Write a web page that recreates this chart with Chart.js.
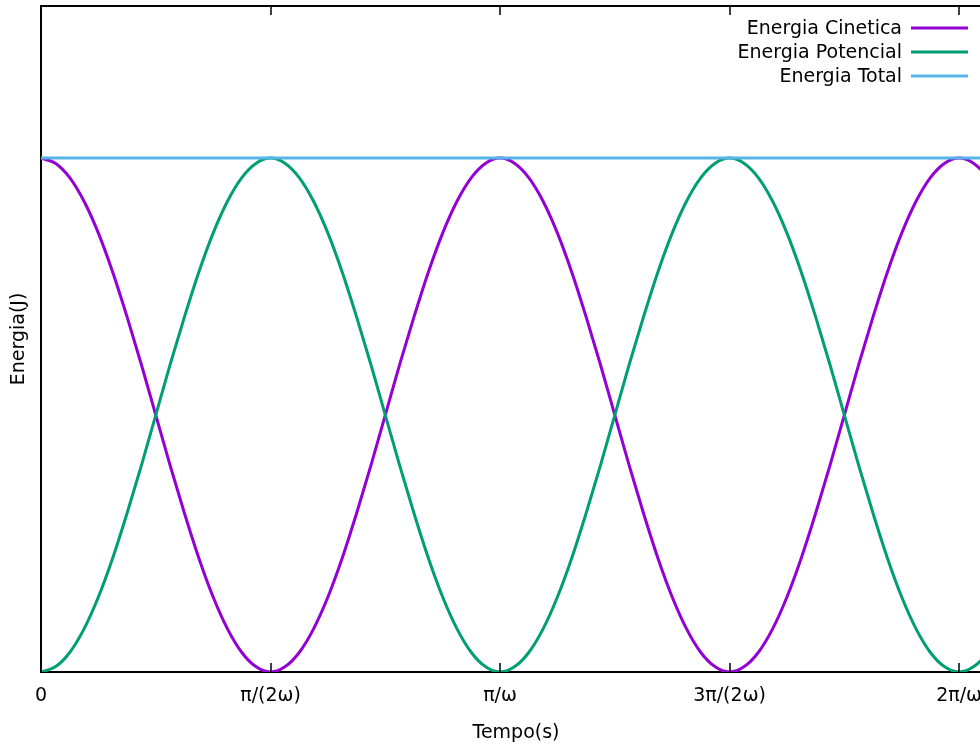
<!DOCTYPE html>
<html>
<head>
<meta charset="utf-8">
<script src="https://cdn.jsdelivr.net/npm/chart.js@4.4.1/dist/chart.umd.min.js"></script>
<style>
  html, body { margin: 0; padding: 0; background: #fff; overflow: hidden; width: 980px; height: 744px; }
  #wrap { width: 1000px; height: 744px; }
</style>
</head>
<body>
<div id="wrap"><canvas id="c" width="1000" height="744"></canvas></div>
<script>
// Time in units of pi/(2*omega)
const tempo = [
  0, 0.0625, 0.125, 0.1875, 0.25, 0.3125, 0.375, 0.4375,
  0.5, 0.5625, 0.625, 0.6875, 0.75, 0.8125, 0.875, 0.9375,
  1, 1.0625, 1.125, 1.1875, 1.25, 1.3125, 1.375, 1.4375,
  1.5, 1.5625, 1.625, 1.6875, 1.75, 1.8125, 1.875, 1.9375,
  2, 2.0625, 2.125, 2.1875, 2.25, 2.3125, 2.375, 2.4375,
  2.5, 2.5625, 2.625, 2.6875, 2.75, 2.8125, 2.875, 2.9375,
  3, 3.0625, 3.125, 3.1875, 3.25, 3.3125, 3.375, 3.4375,
  3.5, 3.5625, 3.625, 3.6875, 3.75, 3.8125, 3.875, 3.9375,
  4, 4.0625, 4.125, 4.1875, 4.25];

const energiaCinetica = [
  1, 0.990, 0.962, 0.916, 0.854, 0.778, 0.691, 0.598,
  0.5, 0.402, 0.309, 0.222, 0.146, 0.084, 0.038, 0.010,
  0, 0.010, 0.038, 0.084, 0.146, 0.222, 0.309, 0.402,
  0.5, 0.598, 0.691, 0.778, 0.854, 0.916, 0.962, 0.990,
  1, 0.990, 0.962, 0.916, 0.854, 0.778, 0.691, 0.598,
  0.5, 0.402, 0.309, 0.222, 0.146, 0.084, 0.038, 0.010,
  0, 0.010, 0.038, 0.084, 0.146, 0.222, 0.309, 0.402,
  0.5, 0.598, 0.691, 0.778, 0.854, 0.916, 0.962, 0.990,
  1, 0.990, 0.962, 0.916, 0.854];

const energiaPotencial = [
  0, 0.010, 0.038, 0.084, 0.146, 0.222, 0.309, 0.402,
  0.5, 0.598, 0.691, 0.778, 0.854, 0.916, 0.962, 0.990,
  1, 0.990, 0.962, 0.916, 0.854, 0.778, 0.691, 0.598,
  0.5, 0.402, 0.309, 0.222, 0.146, 0.084, 0.038, 0.010,
  0, 0.010, 0.038, 0.084, 0.146, 0.222, 0.309, 0.402,
  0.5, 0.598, 0.691, 0.778, 0.854, 0.916, 0.962, 0.990,
  1, 0.990, 0.962, 0.916, 0.854, 0.778, 0.691, 0.598,
  0.5, 0.402, 0.309, 0.222, 0.146, 0.084, 0.038, 0.010,
  0, 0.010, 0.038, 0.084, 0.146];

const energiaTotal = [
  1, 1, 1, 1, 1, 1, 1, 1, 1, 1, 1, 1, 1, 1, 1, 1,
  1, 1, 1, 1, 1, 1, 1, 1, 1, 1, 1, 1, 1, 1, 1, 1,
  1, 1, 1, 1, 1, 1, 1, 1, 1, 1, 1, 1, 1, 1, 1, 1,
  1, 1, 1, 1, 1, 1, 1, 1, 1, 1, 1, 1, 1, 1, 1, 1,
  1, 1, 1, 1, 1];

const tickValues = [0, 1, 2, 3, 4];
const tickLabels = ['0', 'π/(2ω)', 'π/ω', '3π/(2ω)', '2π/ω'];

const FONT = 'DejaVu Sans';
const pts = (ys) => tempo.map((x, i) => ({ x: x, y: ys[i] }));

// Gnuplot-like frame: top border, inward ticks, and key in the upper right
const framePlugin = {
  id: 'frame',
  afterDatasetsDraw(chart) {
    const ctx = chart.ctx;
    const a = chart.chartArea;
    const xs = chart.scales.x;
    ctx.save();
    ctx.strokeStyle = '#000';
    ctx.lineWidth = 2;
    ctx.beginPath();
    ctx.moveTo(a.left, a.top);
    ctx.lineTo(a.right, a.top);
    ctx.stroke();
    ctx.lineWidth = 1.5;
    tickValues.forEach(v => {
      const px = Math.round(xs.getPixelForValue(v));
      ctx.beginPath();
      ctx.moveTo(px, a.bottom);
      ctx.lineTo(px, a.bottom - 9);
      ctx.moveTo(px, a.top);
      ctx.lineTo(px, a.top + 9);
      ctx.stroke();
    });
    // key
    ctx.font = '19px "' + FONT + '"';
    ctx.textAlign = 'right';
    ctx.textBaseline = 'middle';
    chart.data.datasets.forEach((ds, i) => {
      const y = 28 + i * 24;
      ctx.fillStyle = '#000';
      ctx.fillText(ds.label, 902, y + 1);
      ctx.strokeStyle = ds.borderColor;
      ctx.lineWidth = 3;
      ctx.beginPath();
      ctx.moveTo(911, y);
      ctx.lineTo(968, y);
      ctx.stroke();
    });
    ctx.restore();
  }
};

new Chart(document.getElementById('c'), {
  type: 'line',
  data: {
    datasets: [
      { label: 'Energia Cinetica', data: pts(energiaCinetica), borderColor: '#9400d3', order: 3 },
      { label: 'Energia Potencial', data: pts(energiaPotencial), borderColor: '#009e73', order: 2 },
      { label: 'Energia Total', data: pts(energiaTotal), borderColor: '#56b4e9', order: 1 }
    ]
  },
  options: {
    responsive: false,
    animation: false,
    events: [],
    layout: { padding: { top: 6, right: 9, left: 0, bottom: 0 } },
    elements: {
      point: { radius: 0 },
      line: { borderWidth: 3, cubicInterpolationMode: 'monotone', fill: false }
    },
    plugins: { legend: { display: false }, tooltip: { enabled: false } },
    scales: {
      x: {
        type: 'linear',
        min: 0,
        max: 4.139,
        afterFit(s) { s.height = 72; },
        afterBuildTicks(s) { s.ticks = tickValues.map(v => ({ value: v })); },
        grid: { display: false },
        border: { display: true, color: '#000', width: 2 },
        ticks: {
          padding: 5,
          color: '#000',
          font: { family: FONT, size: 19 },
          maxRotation: 0,
          autoSkip: false,
          callback: (v) => tickLabels[tickValues.indexOf(v)]
        },
        title: {
          display: true,
          text: 'Tempo(s)',
          color: '#000',
          font: { family: FONT, size: 19 },
          padding: { top: 0, bottom: 0 }
        }
      },
      y: {
        min: 0,
        max: 1.296,
        afterFit(s) { s.width = 41; },
        grid: { display: false },
        border: { display: true, color: '#000', width: 2 },
        ticks: { display: false },
        title: {
          display: true,
          text: 'Energia(J)',
          color: '#000',
          font: { family: FONT, size: 19 },
          padding: { top: 8, bottom: 0 }
        }
      }
    }
  },
  plugins: [framePlugin]
});
</script>
</body>
</html>
